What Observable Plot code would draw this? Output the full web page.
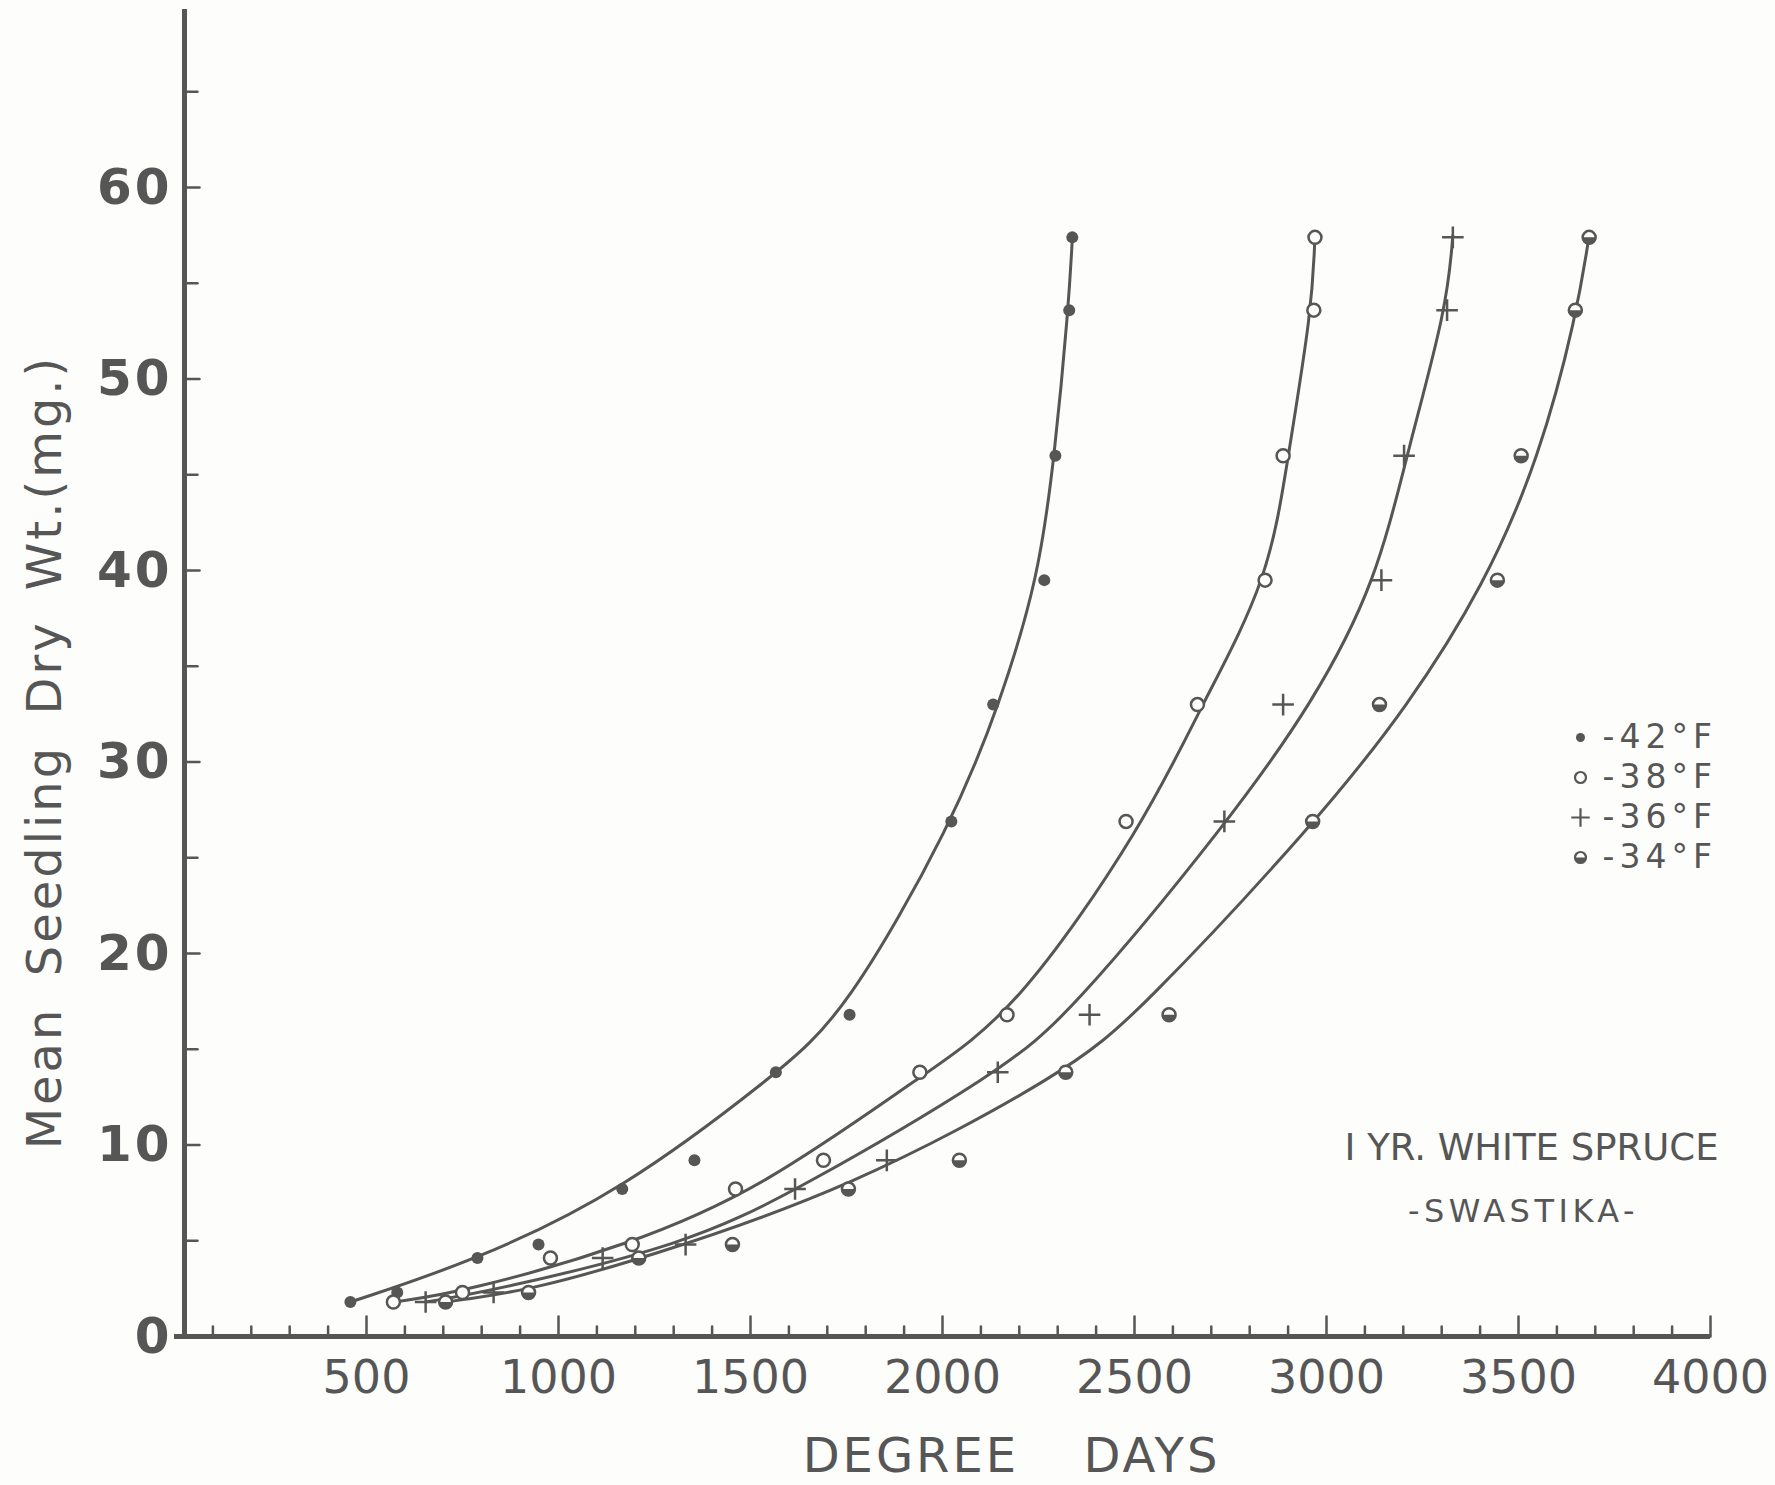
<!DOCTYPE html>
<html>
<head>
<meta charset="utf-8">
<script src="https://cdn.jsdelivr.net/npm/d3@7"></script>
<script src="https://cdn.jsdelivr.net/npm/@observablehq/plot@0.6"></script>
<style>
  html, body { margin: 0; padding: 0; background: #fdfdfb; }
  #chart svg { display: block; }
</style>
</head>
<body>
<div id="chart"></div>
<script>
// ---- data ----
// mean seedling dry weight (mg) at each sampling
const weights = [1.8, 2.3, 4.1, 4.8, 7.7, 9.2, 13.8, 16.8, 26.9, 33.0, 39.5, 46.0, 53.6, 57.4];
// accumulated degree days for each threshold series
const days42 = [458, 580, 789, 948, 1166, 1354, 1566, 1758, 2023, 2132, 2265, 2294, 2330, 2338];
const days38 = [570, 750, 979, 1192, 1461, 1690, 1941, 2168, 2478, 2664, 2840, 2887, 2967, 2970];
const days36 = [654, 831, 1115, 1331, 1616, 1855, 2144, 2383, 2734, 2887, 3143, 3202, 3314, 3329];
const days34 = [706, 922, 1209, 1453, 1755, 2044, 2321, 2590, 2964, 3138, 3445, 3507, 3648, 3684];

// fitted curves
const curve42Days = [458, 789, 1166, 1566, 1745, 2028, 2150, 2250, 2292, 2328, 2338];
const curve42Wt   = [1.8, 4.0, 7.6, 13.7, 16.8, 26.9, 33.1, 39.6, 46.0, 53.7, 57.3];
const curve38Days = [570, 750, 1190, 1535, 1950, 2185, 2530, 2675, 2850, 2900, 2962, 2970];
const curve38Wt   = [1.8, 2.3, 4.8, 7.8, 13.7, 16.8, 26.9, 33.0, 39.5, 46.0, 53.6, 57.5];
const curve36Days = [654, 831, 1331, 1620, 2155, 2330, 2745, 2965, 3130, 3212, 3313, 3329];
const curve36Wt   = [1.8, 2.4, 4.8, 7.6, 13.9, 16.8, 26.9, 33.1, 39.4, 46.3, 53.7, 57.5];
const curve34Days = [706, 922, 1209, 1760, 2330, 2505, 2975, 3215, 3410, 3555, 3652, 3684];
const curve34Wt   = [1.8, 2.4, 4.0, 7.7, 13.9, 16.8, 26.9, 33.0, 39.2, 45.9, 53.4, 57.5];

// axis ticks and labels
const xLabels = [500, 1000, 1500, 2000, 2500, 3000, 3500, 4000];
const xMinor = d3.range(100, 4000, 100).filter(d => d % 500 !== 0);
const yLabels = [0, 10, 20, 30, 40, 50, 60];
const yMajor = [10, 20, 30, 40, 50, 60];
const yMinor = [5, 15, 25, 35, 45, 55, 65];
const yTop = 69.3;

const legendLabels = ["-42°F", "-38°F", "-36°F", "-34°F"];
const xTitle = "DEGREE DAYS";
const yTitle = "Mean Seedling Dry Wt.(mg.)";
const note1 = "I YR. WHITE SPRUCE";
const note2 = "-SWASTIKA-";

// ---- styling ----
const INK = "#565656";
const BG = "#fdfdfb";
const FONT = "DejaVu Sans";

const halfCircle = {
  draw(context, size) {
    const r = Math.sqrt(size / Math.PI);
    context.moveTo(r, 0);
    context.arc(0, 0, r, 0, Math.PI);
    context.closePath();
  }
};
const tickShape = {
  draw(context, l) { context.moveTo(0, 0); context.lineTo(0, -l); }
};

const toPts = (days, wts) => days.map((d, i) => ({x: d, y: wts[i]}));
const p42 = toPts(days42, weights), p38 = toPts(days38, weights),
      p36 = toPts(days36, weights), p34 = toPts(days34, weights);
const c42 = toPts(curve42Days, curve42Wt), c38 = toPts(curve38Days, curve38Wt),
      c36 = toPts(curve36Days, curve36Wt), c34 = toPts(curve34Days, curve34Wt);

const lineOpts = {x: "x", y: "y", stroke: INK, strokeWidth: 3, curve: "basis"};

// legend marks
const legendMarks = [];
const legendDx = 1406, legendTextDx = 1428, legendDy0 = 728, legendStep = 40;
const legendSymbols = [
  {r: 4.5, fill: INK, stroke: "none"},
  {r: 5.5, fill: BG, stroke: INK, strokeWidth: 2.2},
  {r: 6, symbol: "plus", stroke: INK, strokeWidth: 2.2},
  {r: 5.5, fill: BG, stroke: INK, strokeWidth: 2.2}
];
legendLabels.forEach((lab, i) => {
  const dy = legendDy0 + i * legendStep;
  legendMarks.push(Plot.dot([lab], {frameAnchor: "top-left", dx: legendDx, dy, ...legendSymbols[i]}));
  if (i === 3) legendMarks.push(Plot.dot([lab], {frameAnchor: "top-left", dx: legendDx, dy, r: 5.5, symbol: halfCircle, fill: INK, stroke: "none"}));
  legendMarks.push(Plot.text([lab], {frameAnchor: "top-left", dx: legendTextDx, dy, text: d => d, textAnchor: "start",
    lineAnchor: "middle", fontSize: 33, fill: INK}));
});

const chart = Plot.plot({
  width: 1775,
  height: 1485,
  marginLeft: 174,
  marginRight: 65,
  marginTop: 9,
  marginBottom: 149,
  x: {domain: [0, 4000], label: null},
  y: {domain: [0, yTop], label: null},
  style: {background: BG, color: INK, fontFamily: FONT},
  marks: [
    // axis lines
    Plot.ruleY([0], {stroke: INK, strokeWidth: 5}),
    Plot.ruleX([0], {stroke: INK, strokeWidth: 5, dx: 10}),
    // x ticks (pointing up)
    Plot.vector(xMinor, {x: d => d, y: () => 0, length: 10, anchor: "start", shape: tickShape, stroke: INK, strokeWidth: 2.5}),
    Plot.vector(xLabels, {x: d => d, y: () => 0, length: 20, anchor: "start", shape: tickShape, stroke: INK, strokeWidth: 2.5}),
    // y ticks (pointing right)
    Plot.vector(yMajor, {x: () => 0, y: d => d, length: 15, rotate: 90, anchor: "start", shape: tickShape, stroke: INK, strokeWidth: 2.5, dx: 10}),
    Plot.vector(yMinor, {x: () => 0, y: d => d, length: 13, rotate: 90, anchor: "start", shape: tickShape, stroke: INK, strokeWidth: 2.5, dx: 10}),
    // tick labels
    Plot.axisX(xLabels, {tickSize: 0, tickPadding: 24, fontSize: 46, label: null, fill: INK, tickFormat: d => String(d)}),
    Plot.axisY(yLabels, {tickSize: 0, tickPadding: 2, fontSize: 50, fontWeight: "bold", label: null, fill: INK, tickFormat: d => String(d)}),
    // fitted curves
    Plot.line(c42, lineOpts),
    Plot.line(c38, lineOpts),
    Plot.line(c36, lineOpts),
    Plot.line(c34, lineOpts),
    // observations
    Plot.dot(p42, {x: "x", y: "y", r: 6, fill: INK, stroke: "none"}),
    Plot.dot(p38, {x: "x", y: "y", r: 6.5, fill: BG, stroke: INK, strokeWidth: 2.5}),
    Plot.dot(p36, {x: "x", y: "y", r: 7, symbol: "plus", stroke: INK, strokeWidth: 2.5}),
    Plot.dot(p34, {x: "x", y: "y", r: 6.5, fill: BG, stroke: INK, strokeWidth: 2.5}),
    Plot.dot(p34, {x: "x", y: "y", r: 6.5, symbol: halfCircle, fill: INK, stroke: "none"}),
    // titles
    Plot.text([xTitle], {frameAnchor: "bottom", dx: 69, dy: 120, text: d => d, fontSize: 48, textAnchor: "middle", lineAnchor: "middle", fill: INK}),
    Plot.text([yTitle], {frameAnchor: "left", dx: -129, dy: 79, text: d => d, fontSize: 48, rotate: -90, textAnchor: "middle", lineAnchor: "middle", fill: INK}),
    // notes
    Plot.text([note1], {frameAnchor: "bottom-right", dx: -179, dy: -188, text: d => d, fontSize: 37, lineAnchor: "middle", textAnchor: "middle", fill: INK}),
    Plot.text([note2], {frameAnchor: "bottom-right", dx: -187, dy: -125, text: d => d, fontSize: 32, lineAnchor: "middle", textAnchor: "middle", fill: INK}),
    ...legendMarks
  ]
});

// letter spacing for hand-lettered look
const spacing = new Map([
  [xTitle, {ls: "3px", ws: "46px"}],
  [yTitle, {ls: "3px", ws: "12px"}],
  [note2, {ls: "4.5px", ws: "0px"}]
]);
legendLabels.forEach(l => spacing.set(l, {ls: "5px", ws: "0px"}));
d3.select(chart).selectAll("text").each(function() {
  const s = spacing.get(this.textContent);
  if (s) { this.style.letterSpacing = s.ls; this.style.wordSpacing = s.ws; }
});
d3.select(chart).selectAll('g[aria-label="y-axis tick label"] text').style("letter-spacing", "3px");

document.getElementById("chart").appendChild(chart);
</script>
</body>
</html>
